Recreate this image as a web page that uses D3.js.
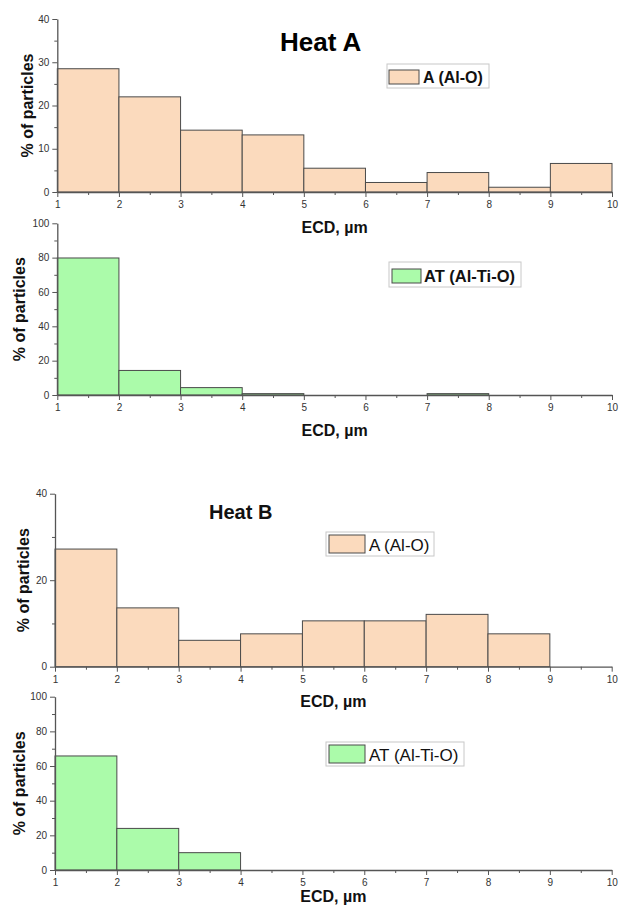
<!DOCTYPE html>
<html>
<head>
<meta charset="utf-8">
<script src="https://cdn.jsdelivr.net/npm/d3@7"></script>
<style>
  body { margin: 0; background: #fff; }
  svg { font-family: Arial, "Liberation Sans", sans-serif; }
</style>
</head>
<body>
<svg id="chart" width="619" height="913"></svg>
<script>
// bin edges of the ECD histogram (µm)
var binEdges = [1, 2, 3, 4, 5, 6, 7, 8, 9, 10];
var xTicks = [1, 2, 3, 4, 5, 6, 7, 8, 9, 10];

// % of particles in each bin
var heatA_A  = [28.5, 22.0, 14.3, 13.2, 5.5, 2.2, 4.5, 1.1, 6.6];
var heatA_AT = [79.8, 14.3, 4.3, 0.8, 0, 0, 0.8, 0, 0];
var heatB_A  = [27.2, 13.6, 6.1, 7.6, 10.6, 10.6, 12.1, 7.6, 0];
var heatB_AT = [65.8, 24.0, 10.0, 0, 0, 0, 0, 0, 0];

var yTicks40a = [0, 10, 20, 30, 40];
var yTicks40b = [0, 20, 40];
var yTicks100 = [0, 20, 40, 60, 80, 100];

var peach = "#fbdabd", green = "#abfbaa";

var panels = [
  {values: heatA_A, fill: peach, yMax: 40, ticks: yTicks40a, minor: 5,
   x0: 57.3, x1: 612, yTop: 19, yBot: 192, ylabX: 27, xlabY: 233,
   legend: {text: "A (Al-O)", bold: true, box: [387, 64, 102, 24], sw: [389, 70, 30, 14], tx: 423, ty: 83, fs: 16}},
  {values: heatA_AT, fill: green, yMax: 100, ticks: yTicks100, minor: 10,
   x0: 57.3, x1: 612, yTop: 223.3, yBot: 395, ylabX: 19, xlabY: 436,
   legend: {text: "AT (Al-Ti-O)", bold: true, box: [389, 262, 132, 25], sw: [392, 269, 29, 14], tx: 424, ty: 282, fs: 16.5}},
  {values: heatB_A, fill: peach, yMax: 40, ticks: yTicks40b, minor: 10,
   x0: 55, x1: 611.7, yTop: 493.7, yBot: 666.7, ylabX: 23, xlabY: 707,
   legend: {text: "A (Al-O)", bold: false, box: [326, 532, 108, 24], sw: [329, 535, 36, 18], tx: 369, ty: 551, fs: 17}},
  {values: heatB_AT, fill: green, yMax: 100, ticks: yTicks100, minor: 10,
   x0: 55, x1: 611.7, yTop: 696.7, yBot: 870, ylabX: 19, xlabY: 902,
   legend: {text: "AT (Al-Ti-O)", bold: false, box: [326, 742, 138, 24], sw: [329, 745, 36, 18], tx: 369, ty: 761, fs: 17}}
];

var svg = d3.select("#chart");
var axisColor = "#555";

panels.forEach(function(p) {
  var x = d3.scaleLinear().domain([binEdges[0], binEdges[binEdges.length - 1]]).range([p.x0, p.x1]);
  var y = d3.scaleLinear().domain([0, p.yMax]).range([p.yBot, p.yTop]);
  var g = svg.append("g");

  var bins = p.values.map(function(v, i) { return {lo: binEdges[i], hi: binEdges[i + 1], v: v}; })
                     .filter(function(d) { return d.v > 0; });

  g.selectAll("rect.bar").data(bins).enter().append("rect")
    .attr("class", "bar")
    .attr("x", function(d) { return x(d.lo); })
    .attr("width", function(d) { return x(d.hi) - x(d.lo); })
    .attr("y", function(d) { return y(d.v); })
    .attr("height", function(d) { return y(0) - y(d.v); })
    .attr("fill", p.fill)
    .attr("stroke", "#4a4a4a")
    .attr("stroke-width", 1);

  // minor ticks
  var xMinor = d3.range(1.5, 10, 1);
  var yMinor = d3.range(p.minor, p.yMax, p.minor).filter(function(v) { return p.ticks.indexOf(v) < 0; });

  g.append("g").attr("transform", "translate(0," + p.yBot + ")")
    .call(d3.axisBottom(x).tickValues(xMinor).tickSize(3).tickFormat(""))
    .call(function(a) { a.select(".domain").remove(); });
  g.append("g").attr("transform", "translate(" + p.x0 + ",0)")
    .call(d3.axisLeft(y).tickValues(yMinor).tickSize(3).tickFormat(""))
    .call(function(a) { a.select(".domain").remove(); });

  var xa = g.append("g").attr("transform", "translate(0," + p.yBot + ")")
    .call(d3.axisBottom(x).tickValues(xTicks).tickSize(5).tickSizeOuter(0).tickPadding(4).tickFormat(d3.format("d")));
  var ya = g.append("g").attr("transform", "translate(" + p.x0 + ",0)")
    .call(d3.axisLeft(y).tickValues(p.ticks).tickSize(5).tickSizeOuter(0).tickPadding(3));

  g.selectAll(".domain").attr("stroke", axisColor).attr("stroke-width", 1.3);
  g.selectAll(".tick line").attr("stroke", axisColor).attr("stroke-width", 1);
  g.selectAll(".tick text").attr("fill", "#333").style("font-size", "10px")
    .style("font-family", "Arial, 'Liberation Sans', sans-serif");

  // axis titles
  g.append("text")
    .attr("x", (p.x0 + p.x1) / 2).attr("y", p.xlabY)
    .attr("text-anchor", "middle")
    .style("font-size", "16px").style("font-weight", "bold").attr("fill", "#111")
    .text("ECD, µm");
  g.append("text")
    .attr("transform", "translate(" + p.ylabX + "," + (p.yTop + p.yBot) / 2 + ") rotate(-90)")
    .attr("text-anchor", "middle").attr("dominant-baseline", "central")
    .style("font-size", "16px").style("font-weight", "bold").attr("fill", "#111")
    .text("% of particles");

  // legend
  var L = p.legend;
  g.append("rect").attr("x", L.box[0]).attr("y", L.box[1]).attr("width", L.box[2]).attr("height", L.box[3])
    .attr("fill", "#fff").attr("stroke", "#c8c8c8").attr("stroke-width", 1);
  g.append("rect").attr("x", L.sw[0]).attr("y", L.sw[1]).attr("width", L.sw[2]).attr("height", L.sw[3])
    .attr("fill", p.fill).attr("stroke", "#4a4a4a").attr("stroke-width", 1);
  g.append("text").attr("x", L.tx).attr("y", L.ty)
    .style("font-size", L.fs + "px").style("font-weight", L.bold ? "bold" : "normal").attr("fill", "#111")
    .text(L.text);
});

// titles
svg.append("text").attr("x", 280).attr("y", 51)
  .style("font-size", "26px").style("font-weight", "bold").attr("fill", "#000")
  .text("Heat A");
svg.append("text").attr("x", 209).attr("y", 519)
  .style("font-size", "20px").style("font-weight", "bold").attr("fill", "#111")
  .text("Heat B");
</script>
</body>
</html>
